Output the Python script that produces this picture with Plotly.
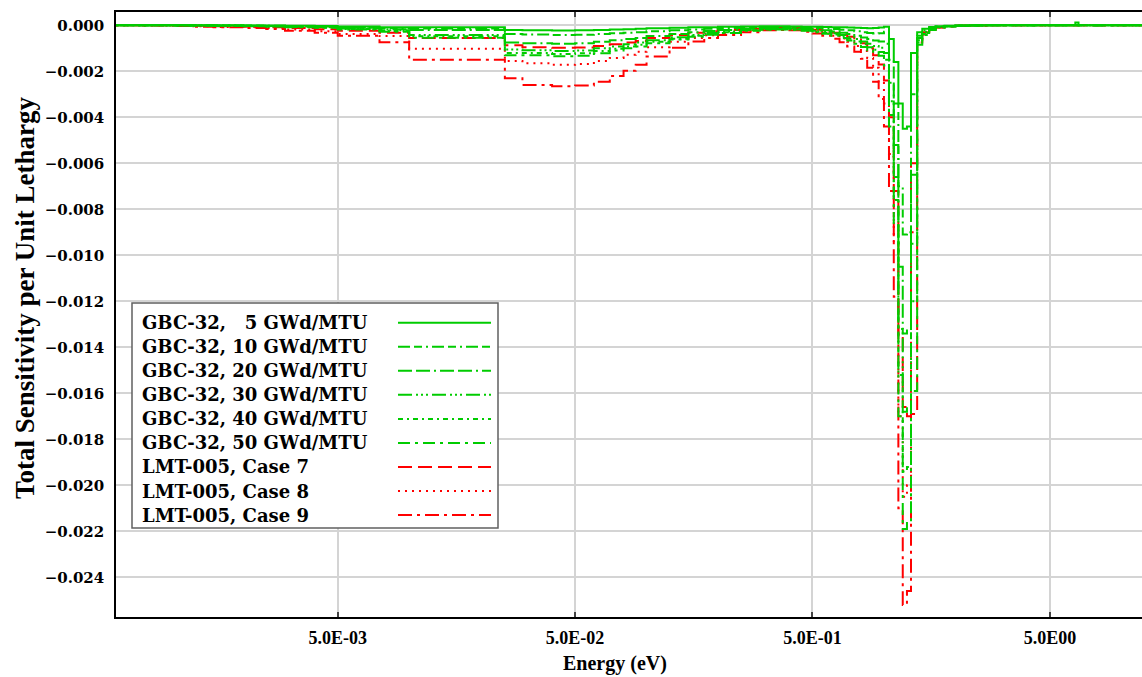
import numpy as np
import plotly.graph_objects as go

# Group boundaries (eV) shared by all sensitivity profiles
energy_edges = [1e-4, 5e-4, 7.5e-4, 1e-3, 1.2e-3, 1.5e-3, 2e-3, 2.5e-3, 3e-3, 4e-3,
                5e-3, 7.5e-3, 1e-2, 2.53e-2, 3e-2, 4e-2, 5e-2, 6e-2, 7e-2, 8e-2,
                9e-2, 0.1, 0.125, 0.15, 0.175, 0.2, 0.25, 0.3, 0.35, 0.4,
                0.45, 0.5, 0.55, 0.6, 0.65, 0.7, 0.75, 0.8, 0.85, 0.9,
                0.95, 1.0, 1.05, 1.1, 1.15, 1.2, 1.25, 1.3, 1.38, 1.45,
                1.55, 1.65, 1.8, 2.0, 2.3, 2.7, 3.0, 4.0, 6.4, 6.6, 20.0]

# Sensitivity per unit lethargy for each group, in units of 1e-3
gbc32_05 = [0, 0, 0, 0, 0, 0, -0.01, -0.01, -0.02, -0.03, -0.05, -0.08,
            -0.08, -0.2, -0.22, -0.23, -0.22, -0.2, -0.18, -0.17, -0.15,
            -0.13, -0.11, -0.09, -0.08, -0.06, -0.05, -0.04, -0.04, -0.05, -0.06,
            -0.06, -0.07, -0.08, -0.09, -0.1, -0.11, -0.12, -0.13, -0.12, -0.1,
            -0.06, -0.6, -1.6, -3.4, -4.5, -4.4, -1.2, -0.3, -0.15, -0.07,
            -0.04, -0.02, -0.01, 0, 0, 0, 0, 0, 0]
gbc32_10 = [0, 0, 0, 0, 0, -0.01, -0.01, -0.02, -0.03, -0.05, -0.08, -0.12,
            -0.14, -0.38, -0.4, -0.42, -0.41, -0.38, -0.35, -0.32, -0.3,
            -0.26, -0.22, -0.18, -0.15, -0.12, -0.09, -0.08, -0.08, -0.09, -0.11,
            -0.12, -0.14, -0.16, -0.19, -0.22, -0.26, -0.3, -0.34, -0.36, -0.35,
            -0.28, -1.5, -3.4, -7.0, -9.1, -9.0, -3.0, -0.45, -0.22, -0.1,
            -0.05, -0.03, -0.01, 0, 0, 0, 0, 0, 0]
gbc32_20 = [0, 0, 0, 0, -0.01, -0.01, -0.02, -0.03, -0.05, -0.07, -0.11, -0.17,
            -0.2, -0.75, -0.78, -0.8, -0.78, -0.72, -0.65, -0.6, -0.55,
            -0.47, -0.38, -0.3, -0.25, -0.2, -0.15, -0.12, -0.12, -0.13, -0.16,
            -0.18, -0.22, -0.27, -0.32, -0.38, -0.45, -0.53, -0.6, -0.66, -0.7,
            -0.8, -2.5, -5.2, -10.5, -13.4, -13.2, -6.5, -0.55, -0.28, -0.13,
            -0.07, -0.04, -0.02, -0.01, 0, 0, 0, 0, 0]
gbc32_30 = [0, 0, 0, 0, -0.01, -0.02, -0.03, -0.04, -0.06, -0.09, -0.14, -0.22,
            -0.42, -1.05, -1.08, -1.12, -1.1, -1.0, -0.92, -0.82, -0.75,
            -0.65, -0.52, -0.42, -0.34, -0.27, -0.2, -0.16, -0.15, -0.16, -0.2,
            -0.24, -0.29, -0.35, -0.42, -0.5, -0.6, -0.7, -0.8, -0.9, -0.98,
            -1.2, -3.3, -6.6, -13.2, -16.8, -16.6, -9.5, -0.65, -0.33, -0.16,
            -0.08, -0.04, -0.02, -0.01, 0, 0, 0, 0, 0]
gbc32_40 = [0, 0, 0, -0.01, -0.01, -0.02, -0.03, -0.05, -0.07, -0.1, -0.16, -0.25,
            -0.48, -1.2, -1.2, -1.25, -1.22, -1.12, -1.02, -0.92, -0.85,
            -0.72, -0.58, -0.46, -0.38, -0.3, -0.22, -0.18, -0.17, -0.18, -0.22,
            -0.27, -0.33, -0.4, -0.48, -0.58, -0.7, -0.82, -0.95, -1.06, -1.16,
            -1.5, -3.9, -7.6, -15.2, -19.4, -19.2, -12.0, -0.75, -0.38, -0.18,
            -0.09, -0.05, -0.02, -0.01, 0, 0, 0, 0, 0]
gbc32_50 = [0, 0, 0, -0.01, -0.01, -0.02, -0.04, -0.05, -0.08, -0.11, -0.18, -0.28,
            -0.54, -1.3, -1.3, -1.35, -1.32, -1.22, -1.1, -1.0, -0.92,
            -0.78, -0.62, -0.5, -0.41, -0.33, -0.24, -0.19, -0.18, -0.2, -0.24,
            -0.3, -0.37, -0.45, -0.55, -0.66, -0.8, -0.94, -1.08, -1.2, -1.32,
            -1.75, -4.4, -8.6, -17.0, -21.9, -21.6, -15.9, -0.85, -0.42, -0.2,
            -0.1, -0.05, -0.02, -0.01, 0, 0, 0, 0.12, 0]
lmt005_case7 = [0, 0, 0, -0.01, -0.02, -0.04, -0.06, -0.08, -0.12, -0.17, -0.24, -0.32,
                -0.55, -0.87, -0.95, -0.98, -0.97, -0.9, -0.82, -0.75, -0.68,
                -0.55, -0.42, -0.32, -0.26, -0.2, -0.15, -0.12, -0.11, -0.12, -0.15,
                -0.19, -0.25, -0.32, -0.4, -0.5, -0.62, -0.78, -1.0, -1.3, -1.7,
                -2.4, -4.0, -7.2, -13.5, -16.6, -17.0, -16.9, -0.55, -0.3, -0.16,
                -0.08, -0.04, -0.02, -0.01, 0, 0, 0, 0, 0]
lmt005_case8 = [0, 0, -0.01, -0.02, -0.04, -0.07, -0.09, -0.12, -0.18, -0.26, -0.38, -0.47,
                -1.02, -1.55, -1.65, -1.72, -1.68, -1.55, -1.42, -1.28, -1.15,
                -0.95, -0.72, -0.55, -0.43, -0.33, -0.24, -0.18, -0.16, -0.18, -0.22,
                -0.28, -0.36, -0.45, -0.57, -0.72, -0.9, -1.12, -1.42, -1.85, -2.45,
                -3.4, -5.6, -9.5, -17.0, -20.5, -20.0, -9.0, -0.65, -0.35, -0.18,
                -0.09, -0.05, -0.02, -0.01, 0, 0, 0, 0, 0]
lmt005_case9 = [0, 0, -0.01, -0.03, -0.06, -0.09, -0.12, -0.16, -0.24, -0.32, -0.45, -0.74,
                -1.5, -2.3, -2.6, -2.65, -2.62, -2.45, -2.2, -1.98, -1.72,
                -1.36, -0.98, -0.7, -0.55, -0.42, -0.3, -0.22, -0.2, -0.22, -0.28,
                -0.36, -0.46, -0.58, -0.74, -0.92, -1.15, -1.45, -1.85, -2.45, -3.2,
                -4.4, -7.2, -11.8, -21.0, -25.2, -24.6, -6.0, -0.75, -0.4, -0.2,
                -0.1, -0.05, -0.02, -0.01, 0, 0, 0, 0, 0]

legend_labels = ["GBC-32, \u20075 GWd/MTU", "GBC-32, 10 GWd/MTU", "GBC-32, 20 GWd/MTU",
                 "GBC-32, 30 GWd/MTU", "GBC-32, 40 GWd/MTU", "GBC-32, 50 GWd/MTU",
                 "LMT-005, Case 7", "LMT-005, Case 8", "LMT-005, Case 9"]

y_tick_values = [0, -0.002, -0.004, -0.006, -0.008, -0.010, -0.012,
                 -0.014, -0.016, -0.018, -0.020, -0.022, -0.024]
x_tick_values = [5e-3, 5e-2, 5e-1, 5.0]
x_tick_labels = ["5.0E-03", "5.0E-02", "5.0E-01", "5.0E00"]

GREEN = "#00cc00"
RED = "#ff0000"

profiles = [
    (legend_labels[0], gbc32_05, GREEN, "solid"),
    (legend_labels[1], gbc32_10, GREEN, "12px,4px,8px,4px,2px,4px"),
    (legend_labels[2], gbc32_20, GREEN, "14px,4px,14px,4px,2px,4px"),
    (legend_labels[3], gbc32_30, GREEN, "14px,4px,2px,3px,2px,3px,2px,4px"),
    (legend_labels[4], gbc32_40, GREEN, "5px,4px,2px,4px"),
    (legend_labels[5], gbc32_50, GREEN, "12px,5px,3px,5px"),
    (legend_labels[6], lmt005_case7, RED, "14px,6px"),
    (legend_labels[7], lmt005_case8, RED, "2px,5px"),
    (legend_labels[8], lmt005_case9, RED, "14px,5px,3px,5px"),
]

W, H = 1142, 677
ML, MR, MT, MB = 116, 0, 12, 60
PW, PH = W - ML - MR, H - MT - MB


def paper_x(px):
    return (px - ML) / PW


def paper_y(py):
    return (H - MB - py) / PH


fig = go.Figure()

# red profiles first so the green ones sit on top
draw_order = profiles[6:] + profiles[:6]
for name, vals, color, dash in draw_order:
    y = np.array(vals + [vals[-1]], dtype=float) * 1e-3
    fig.add_trace(go.Scatter(
        x=energy_edges, y=y, mode="lines", name=name,
        line=dict(color=color, width=2, dash=dash, shape="hv"),
        showlegend=False, hoverinfo="skip"))

# boxed key: label on the left, line sample on the right
shapes = [dict(type="rect", xref="paper", yref="paper",
               x0=paper_x(132), x1=paper_x(498), y0=paper_y(303), y1=paper_y(528),
               line=dict(color="#606060", width=1.5), fillcolor="white", layer="above")]
annotations = []
row0, row_step = 322.7, 24.05
for i, (name, vals, color, dash) in enumerate(profiles):
    ry = row0 + i * row_step
    shapes.append(dict(type="line", xref="paper", yref="paper",
                       x0=paper_x(398), x1=paper_x(491), y0=paper_y(ry), y1=paper_y(ry),
                       line=dict(color=color, width=2, dash=dash), layer="above"))
    annotations.append(dict(x=paper_x(140), y=paper_y(ry), xref="paper", yref="paper",
                            text=name, showarrow=False, xanchor="left", yanchor="middle",
                            font=dict(family="DejaVu Serif", size=18, color="black",
                                      weight="bold")))

annotations.append(dict(x=paper_x(25), y=paper_y(298), xref="paper", yref="paper",
                        text="Total Sensitivity per Unit Lethargy", textangle=-90,
                        showarrow=False, xanchor="center", yanchor="middle",
                        font=dict(family="Liberation Serif", size=27, color="black",
                                  weight="bold")))
annotations.append(dict(x=paper_x(615), y=paper_y(663), xref="paper", yref="paper",
                        text="Energy (eV)", showarrow=False, xanchor="center",
                        yanchor="middle",
                        font=dict(family="Liberation Serif", size=20, color="black",
                                  weight="bold")))

fig.update_layout(
    width=W, height=H,
    margin=dict(l=ML, r=MR, t=MT, b=MB, pad=0),
    plot_bgcolor="white", paper_bgcolor="white",
    showlegend=False,
    shapes=shapes, annotations=annotations,
    xaxis=dict(type="log", range=[-3.2349, 1.087],
               tickvals=x_tick_values, ticktext=x_tick_labels,
               showgrid=True, gridcolor="#d4d4d4", gridwidth=1.5,
               showline=True, linecolor="black", linewidth=2, mirror="ticks",
               ticks="inside", ticklen=5, tickcolor="#444444", tickwidth=2,
               ticklabelstandoff=3,
               tickfont=dict(family="Liberation Serif", size=18, color="black",
                             weight="bold"),
               zeroline=False),
    yaxis=dict(range=[-0.025726, 0.000578],
               tickvals=y_tick_values, tickformat=".3f",
               showgrid=True, gridcolor="#d4d4d4", gridwidth=1.5,
               showline=True, linecolor="black", linewidth=1.5, mirror=False,
               ticks="", ticklabelstandoff=7,
               tickfont=dict(family="DejaVu Serif", size=15, color="black",
                             weight="bold"),
               zeroline=False),
)

fig.write_html("out.html")
